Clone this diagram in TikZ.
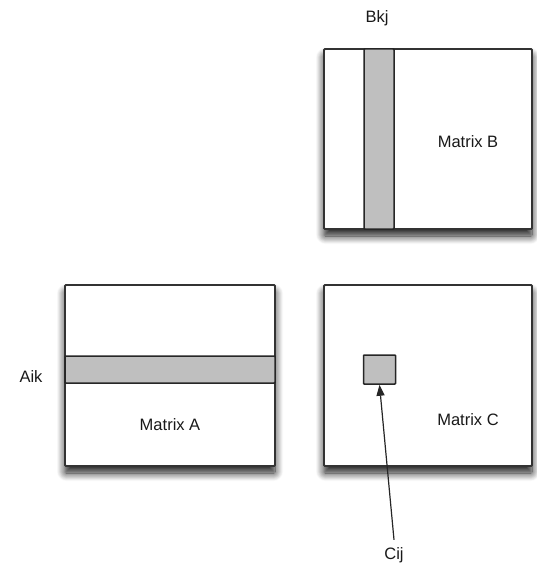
\documentclass[tikz,border=0pt]{standalone}
\usepackage{fontspec}
\setmainfont{Liberation Sans}
\usetikzlibrary{shadows.blur,arrows.meta}
\begin{document}
\begin{tikzpicture}[x=1pt,y=-1pt,
  matbox/.style={draw=black!80,line width=1.8pt,fill=white,rounded corners=1pt,
    blur shadow={shadow xshift=0pt,shadow yshift=-7pt,shadow blur steps=12,shadow blur radius=8pt,shadow opacity=90}},
  cell/.style={draw=black!85,line width=1.5pt,fill=black!25,rounded corners=0.8pt},
  lbl/.style={font=\fontsize{16.5}{18}\selectfont,text=black!90}]
\useasboundingbox (0,0) rectangle (536,564);
% matrix B with its column k
\path[matbox] (324,49) rectangle (532,229);
\path[cell] (364,49) rectangle (394,229);
\node[lbl] (bkj) at (377,18) {Bkj};
\node[lbl] (mb) at (468,142) {Matrix B};
% matrix A with its row i
\path[matbox] (65,285) rectangle (275,466);
\path[cell] (65,356) rectangle (275,383);
\node[lbl] (aik) at (31,377) {Aik};
\node[lbl] (ma) at (170,425) {Matrix A};
% matrix C with element ij
\path[matbox] (324,285) rectangle (532,466);
\node[cell,minimum width=32pt,minimum height=29pt,inner sep=0pt] (cij) at (379.5,369.5) {};
\node[lbl] (mc) at (468,420) {Matrix C};
\node[lbl] (cijl) at (394,555) {Cij};
\draw[line width=1.2pt,black!85,-{Triangle[length=11pt,width=8pt]}] (cijl.north) ++(0,-4) -- (cij.south);
\end{tikzpicture}
\end{document}
